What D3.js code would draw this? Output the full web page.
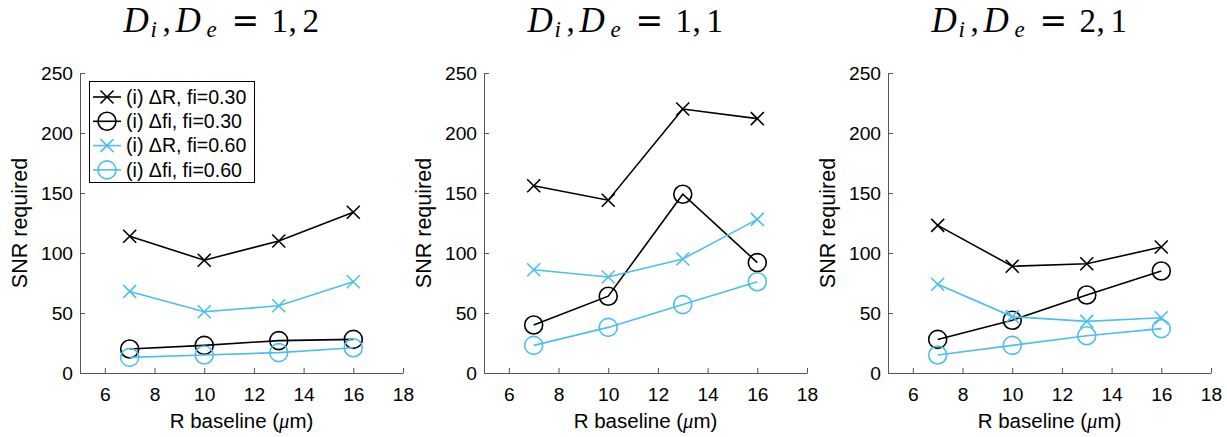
<!DOCTYPE html>
<html><head><meta charset="utf-8">
<script src="https://cdn.jsdelivr.net/npm/d3@7"></script>
<style>body{margin:0;background:#fff}svg{display:block}</style>
</head><body><svg id="c" width="1227" height="437"></svg>
<script>
const xValues = [7, 10, 13, 16];
const xTicks = [6, 8, 10, 12, 14, 16, 18];
const yTicks = [0, 50, 100, 150, 200, 250];
const panelTitles = [["1","2"],["1","1"],["2","1"]];
const seriesNames = ["(i) \u0394R, fi=0.30","(i) \u0394fi, fi=0.30","(i) \u0394R, fi=0.60","(i) \u0394fi, fi=0.60"];
const seriesMarkers = ["x","o","x","o"];
const seriesColors = ["#000000","#000000","#4DBEEE","#4DBEEE"];
// panel 1: D_i,D_e = 1,2
const p1_dR_30 = [114, 94, 110, 134];
const p1_df_30 = [20, 23, 27, 28];
const p1_dR_60 = [68, 51, 56, 76];
const p1_df_60 = [13, 15, 17, 21];
// panel 2: 1,1
const p2_dR_30 = [156, 144, 220, 212];
const p2_df_30 = [40, 64, 149, 92];
const p2_dR_60 = [86, 80, 95, 128];
const p2_df_60 = [23, 38, 57, 76];
// panel 3: 2,1
const p3_dR_30 = [123, 89, 91, 105];
const p3_df_30 = [28, 44, 65, 85];
const p3_dR_60 = [74, 47, 43, 46];
const p3_df_60 = [15, 23, 31, 37];
const panels = [
  [p1_dR_30, p1_df_30, p1_dR_60, p1_df_60],
  [p2_dR_30, p2_df_30, p2_dR_60, p2_df_60],
  [p3_dR_30, p3_df_30, p3_dR_60, p3_df_60]
];

const svg = d3.select("#c");
const lefts = [80, 484, 888];
const W = 323, plotTop = 73, plotBottom = 373;
const font = "'Liberation Sans', Arial, Helvetica, sans-serif";
const serif = "'Liberation Serif', 'Times New Roman', serif";
const axisColor = "#555555";

function drawMarker(g, type, cx, cy, color) {
  if (type === "x") {
    const s = 6.5;
    g.append("path").attr("d", `M${cx-s},${cy-s}L${cx+s},${cy+s}M${cx-s},${cy+s}L${cx+s},${cy-s}`)
      .attr("stroke", color).attr("stroke-width", 1.6).attr("fill", "none");
  } else {
    g.append("circle").attr("cx", cx).attr("cy", cy).attr("r", 9)
      .attr("stroke", color).attr("stroke-width", 1.6).attr("fill", "none");
  }
}

panels.forEach((series, pi) => {
  const L = lefts[pi];
  const x = d3.scaleLinear().domain([5, 18]).range([L, L + W]);
  const y = d3.scaleLinear().domain([0, 250]).range([plotBottom, plotTop]);
  const g = svg.append("g");

  const xa = g.append("g").attr("transform", `translate(0,${plotBottom})`)
    .call(d3.axisBottom(x).tickValues(xTicks).tickSizeInner(-5).tickSizeOuter(0).tickPadding(12));
  const ya = g.append("g").attr("transform", `translate(${L},0)`)
    .call(d3.axisLeft(y).tickValues(yTicks).tickSizeInner(-5).tickSizeOuter(0).tickPadding(7));
  [xa, ya].forEach(a => {
    a.selectAll("path").attr("stroke", axisColor).attr("stroke-width", 1);
    a.selectAll("line").attr("stroke", axisColor).attr("stroke-width", 1);
    a.selectAll("text").attr("font-family", font).attr("font-size", 19.2).attr("fill", "#000");
  });
  xa.selectAll("text").attr("dy", "0.85em");

  const xl = g.append("text").attr("x", L + W / 2).attr("y", 428)
    .attr("text-anchor", "middle").attr("font-family", font).attr("font-size", 20.5);
  xl.append("tspan").text("R baseline (");
  xl.append("tspan").attr("font-style", "italic").attr("font-family", "'Liberation Serif', serif").text("\u03bc");
  xl.append("tspan").text("m)");
  g.append("text").attr("transform", `translate(${L - 53},${(plotTop + plotBottom) / 2}) rotate(-90)`)
    .attr("text-anchor", "middle").attr("font-family", font).attr("font-size", 21.5).text("SNR required");

  // title, laid out like LaTeX math
  const c = L + W / 2;
  const base = 32;
  const t = g.append("text").attr("font-family", serif).attr("font-size", 33);
  const part = (txt, dx, opts = {}) => {
    const s = t.append("tspan").attr("x", c + dx).attr("y", base + (opts.sub ? 5 : 0)).text(txt);
    if (opts.it) s.attr("font-style", "italic");
    if (opts.sub) s.attr("font-size", 23);
    if (opts.size) s.attr("font-size", opts.size);
    if (opts.fam) s.attr("font-family", opts.fam);
    return s;
  };
  part("D", -118, {it: true, size: 35});
  part("i", -91, {it: true, sub: true});
  part(",", -79);
  part("D", -66, {it: true, size: 35});
  part("e", -35, {it: true, sub: true});
  part("=", -10, {fam: "'DejaVu Serif', serif"});
  part(panelTitles[pi][0], 30);
  part(",", 47);
  part(panelTitles[pi][1], 61);

  const line = d3.line().x((d, i) => x(xValues[i])).y(d => y(d));
  series.forEach((vals, si) => {
    g.append("path").datum(vals).attr("d", line).attr("fill", "none")
      .attr("stroke", seriesColors[si]).attr("stroke-width", 1.6);
    vals.forEach((v, i) => drawMarker(g, seriesMarkers[si], x(xValues[i]), y(v), seriesColors[si]));
  });

  if (pi === 0) {
    const lg = g.append("g");
    lg.append("rect").attr("x", 89.5).attr("y", 81.5).attr("width", 165).attr("height", 101)
      .attr("fill", "#fff").attr("stroke", "#000").attr("stroke-width", 1);
    seriesNames.forEach((name, si) => {
      const cy = 97 + si * 24.3;
      lg.append("line").attr("x1", 93).attr("x2", 121).attr("y1", cy).attr("y2", cy)
        .attr("stroke", seriesColors[si]).attr("stroke-width", 1.6);
      drawMarker(lg, seriesMarkers[si], 107, cy, seriesColors[si]);
      lg.append("text").attr("x", 126).attr("y", cy).attr("dy", "0.35em")
        .attr("font-family", font).attr("font-size", 19.6).text(name);
    });
  }
});
</script></body></html>
